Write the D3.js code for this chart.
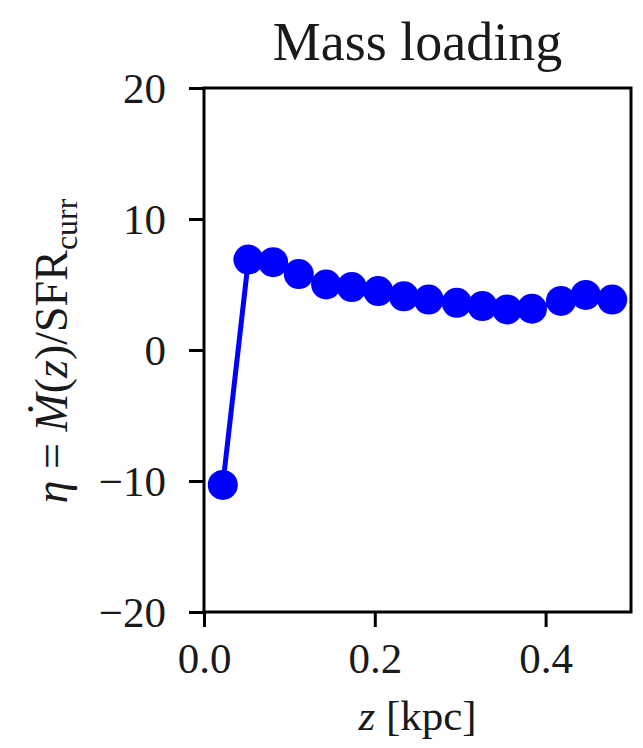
<!DOCTYPE html>
<html>
<head>
<meta charset="utf-8">
<script src="https://cdn.jsdelivr.net/npm/d3@7"></script>
<style>
  body { margin: 0; background: #fff; }
  svg text { font-family: "Liberation Serif", "DejaVu Serif", serif; fill: #1a1a1a; }
</style>
</head>
<body>
<div id="chart"></div>
<script>
'use strict';

// data
const zValues = [0.022, 0.052, 0.081, 0.111, 0.143, 0.173, 0.204, 0.234,
                 0.263, 0.296, 0.326, 0.355, 0.384, 0.418, 0.447, 0.478];
const etaValues = [-10.3, 6.9, 6.7, 5.8, 5.0, 4.8, 4.5, 4.1,
                   3.85, 3.6, 3.35, 3.1, 3.15, 3.75, 4.2, 3.85];
const xTicks = [0.0, 0.2, 0.4];
const yTicks = [-20, -10, 0, 10, 20];

const width = 643,
      height = 748;
const margin = {'top': 88, 'bottom': 136, 'left': 204, 'right': 12};

let svg = d3.select('#chart')
            .append('svg')
            .attr('width', width)
            .attr('height', height);

let x = d3.scaleLinear()
          .domain([0, 0.5])
          .range([margin.left, width - margin.right]);
let y = d3.scaleLinear()
          .domain([-20, 20])
          .range([height - margin.bottom, margin.top]);

// axes
let xAxis = svg.append('g')
               .attr('transform', 'translate(0,' + y(-20) + ')')
               .call(d3.axisBottom(x)
                       .tickValues(xTicks)
                       .tickFormat(d3.format('.1f'))
                       .tickSize(15)
                       .tickPadding(14));
let yAxis = svg.append('g')
               .attr('transform', 'translate(' + x(0) + ',0)')
               .call(d3.axisLeft(y)
                       .tickValues(yTicks)
                       .tickSize(15)
                       .tickPadding(23));

[xAxis, yAxis].forEach(function(ax) {
    ax.select('.domain').remove();
    ax.selectAll('.tick line')
      .attr('stroke', '#000')
      .attr('stroke-width', 3);
    ax.selectAll('.tick text')
      .style('font-family', '"Liberation Serif", "DejaVu Serif", serif')
      .style('font-size', '43px')
      .attr('fill', '#1a1a1a');
});
yAxis.selectAll('.tick text').attr('dy', '0.34em');
xAxis.selectAll('.tick text').attr('dy', '0.75em');

// line and markers
let line = d3.line()
             .x(function(d, i) { return x(zValues[i]); })
             .y(function(d) { return y(d); });

svg.append('path')
   .datum(etaValues)
   .attr('d', line)
   .attr('fill', 'none')
   .attr('stroke', '#0000ff')
   .attr('stroke-width', 5);

svg.append('g')
   .selectAll('circle')
   .data(etaValues)
   .enter()
   .append('circle')
   .attr('cx', function(d, i) { return x(zValues[i]); })
   .attr('cy', function(d) { return y(d); })
   .attr('r', 15)
   .attr('fill', '#0000ff');

// frame
svg.append('rect')
   .attr('x', x(0))
   .attr('y', y(20))
   .attr('width', x(0.5) - x(0))
   .attr('height', y(-20) - y(20))
   .attr('fill', 'none')
   .attr('stroke', '#000')
   .attr('stroke-width', 3);

// title
svg.append('text')
   .attr('x', (x(0) + x(0.5)) / 2)
   .attr('y', 60)
   .attr('text-anchor', 'middle')
   .style('font-size', '54px')
   .text('Mass loading');

// x label
let xLabel = svg.append('text')
                .attr('x', (x(0) + x(0.5)) / 2)
                .attr('y', 730)
                .attr('text-anchor', 'middle')
                .style('font-size', '43px');
xLabel.append('tspan').style('font-style', 'italic').text('z');
xLabel.append('tspan').text(' [kpc]');

// y label
let yLabel = svg.append('text')
                .attr('transform', 'translate(67,' + (y(0) + 1) + ') rotate(-90)')
                .attr('text-anchor', 'middle')
                .style('font-size', '46px');
yLabel.append('tspan').style('font-style', 'italic').text('η');
yLabel.append('tspan').text(' = ');
yLabel.append('tspan').style('font-style', 'italic').text('Ṁ');
yLabel.append('tspan').text('(');
yLabel.append('tspan').style('font-style', 'italic').text('z');
yLabel.append('tspan').text(')/SFR');
yLabel.append('tspan')
      .attr('dy', 10)
      .style('font-size', '32px')
      .text('curr');
</script>
</body>
</html>
